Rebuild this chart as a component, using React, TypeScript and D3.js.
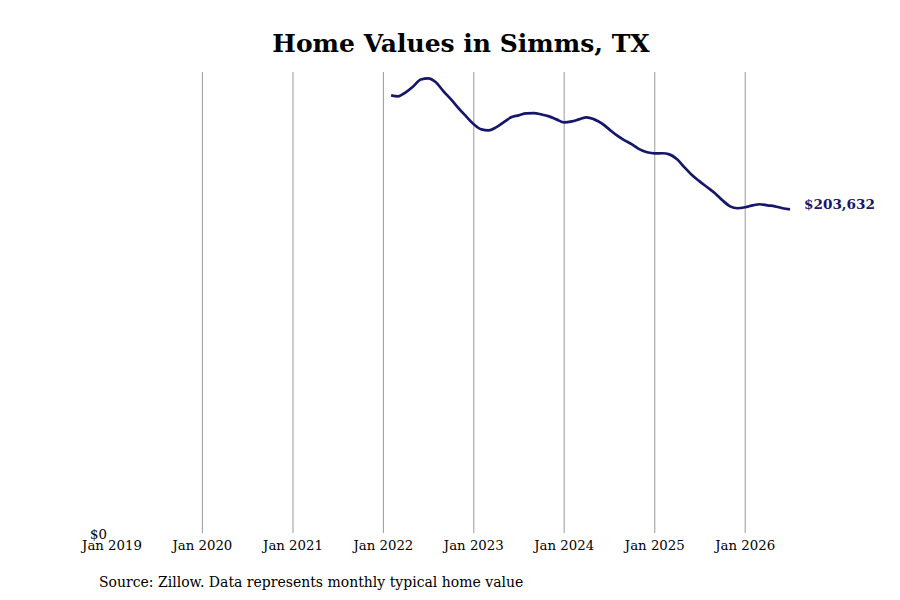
import React from "react";
import * as d3 from "d3";

// monthly typical home value, Feb 2022 .. Jul 2026
const startMonth = new Date(2022, 1, 1);
const homeValues = [
  275300, 274700, 277200, 280900, 285300, 286000, 283500, 277800, 272800, 267100, 262100,
  257100, 253900, 253300, 255200, 258300, 261500, 262700, 264000, 264100, 263300, 262100, 260200,
  258300, 258900, 260200, 261500, 260200, 257700, 253900, 250100, 247000, 244500, 241300, 239500,
  238800, 238900, 238200, 235100, 230000, 225000, 221200, 217500, 213700, 209300, 205500, 204300,
  204900, 206100, 206800, 206100, 205500, 204300, 203632,
];
const tickYears = [2019, 2020, 2021, 2022, 2023, 2024, 2025, 2026];

const W = 900;
const H = 600;
const left = 112;
const right = 790;
const top = 72;
const bottom = 533;
const navy = "#16166b";
const font = "'DejaVu Serif', serif";

export default function App() {
  const data = homeValues.map((v, i) => ({
    date: d3.timeMonth.offset(startMonth, i),
    value: v,
  }));

  const x = d3
    .scaleTime()
    .domain([new Date(2019, 0, 1), new Date(2026, 6, 1)])
    .range([left, right]);

  const y = d3.scaleLinear().domain([0, 290000]).range([bottom, top]);

  const line = d3
    .line<{ date: Date; value: number }>()
    .x((d) => x(d.date))
    .y((d) => y(d.value))
    .curve(d3.curveMonotoneX);

  const last = data[data.length - 1];
  const fmt = d3.format("$,");

  return (
    <div style={{ position: "absolute", left: 0, top: 0 }}>
      <svg width={W} height={H} style={{ display: "block", background: "#fff" }}>
        <text x={461} y={52} textAnchor="middle" fontFamily={font} fontWeight="bold" fontSize={25}>
          Home Values in Simms, TX
        </text>

        {tickYears.map((yr) => {
          const px = x(new Date(yr, 0, 1));
          return (
            <g key={yr}>
              {yr > 2019 && (
                <line x1={px} x2={px} y1={top} y2={bottom} stroke="#999" strokeWidth={1} />
              )}
              <text x={px} y={550} textAnchor="middle" fontFamily={font} fontSize={13.3}>
                {`Jan ${yr}`}
              </text>
            </g>
          );
        })}

        <text x={107} y={y(0) + 6} textAnchor="end" fontFamily={font} fontSize={13.3}>
          {fmt(0)}
        </text>

        <path d={line(data) ?? ""} fill="none" stroke={navy} strokeWidth={2.7} strokeLinejoin="round" />

        <text
          x={x(last.date) + 14}
          y={y(last.value) - 5}
          dy="0.35em"
          fontFamily={font}
          fontWeight="bold"
          fontSize={13.6}
          fill={navy}
        >
          {fmt(last.value)}
        </text>

        <text x={99} y={587} fontFamily={font} fontSize={14}>
          Source: Zillow. Data represents monthly typical home value
        </text>
      </svg>
    </div>
  );
}
